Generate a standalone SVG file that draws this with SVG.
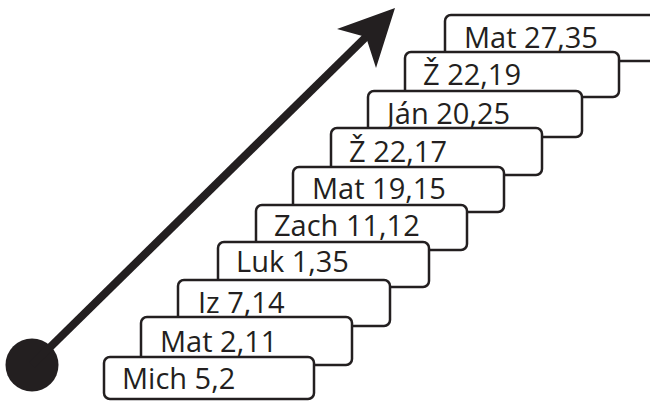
<svg xmlns="http://www.w3.org/2000/svg" width="650" height="401" viewBox="0 0 650 401">
<style>
.box rect{fill:#fff;stroke:#231f20;stroke-width:2.5}
.box text{font-family:"Open Sans","Noto Sans","DejaVu Sans",sans-serif;font-size:29px;fill:#231f20}
</style>
<rect width="650" height="401" fill="#fff"/>
<g id="n10" class="box"><rect x="445" y="15" width="214" height="46" rx="6"/><text x="464" y="48">Mat 27,35</text></g>
<g id="n9" class="box"><rect x="405" y="52" width="214" height="45" rx="6"/><text x="423" y="85">Ž 22,19</text></g>
<g id="n8" class="box"><rect x="368" y="91" width="214" height="46" rx="6"/><text x="387" y="124">Ján 20,25</text></g>
<g id="n7" class="box"><rect x="331" y="128" width="211" height="47" rx="6"/><text x="349" y="162">Ž 22,17</text></g>
<g id="n6" class="box"><rect x="293" y="167" width="211" height="45" rx="6"/><text x="312" y="199">Mat 19,15</text></g>
<g id="n5" class="box"><rect x="256" y="205" width="211" height="45" rx="6"/><text x="274" y="236">Zach 11,12</text></g>
<g id="n4" class="box"><rect x="218" y="242" width="211" height="45" rx="6"/><text x="236" y="272">Luk 1,35</text></g>
<g id="n3" class="box"><rect x="178" y="280" width="212" height="46" rx="6"/><text x="198" y="313">Iz 7,14</text></g>
<g id="n2" class="box"><rect x="141" y="317" width="211" height="48" rx="6"/><text x="160" y="352">Mat 2,11</text></g>
<g id="n1" class="box"><rect x="104" y="357" width="210" height="42" rx="6"/><text x="122" y="389">Mich 5,2</text></g>
<g id="connectors">
<circle cx="32" cy="365" r="26.5" fill="#231f20"/>
<line x1="32" y1="365" x2="370" y2="33" stroke="#231f20" stroke-width="8"/>
<polygon points="395,8 376,68 366,37 337,29" fill="#231f20"/>
</g>
</svg>
